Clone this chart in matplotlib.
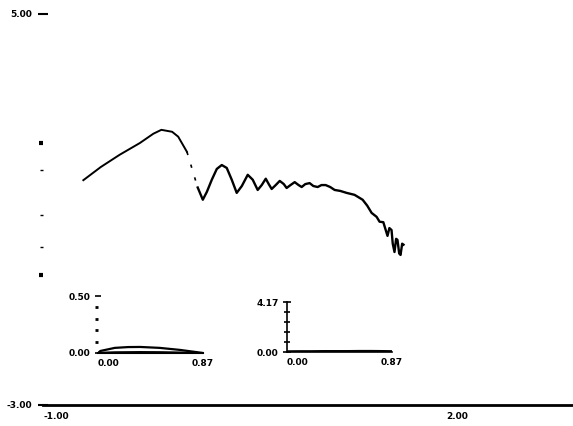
import numpy as np
import matplotlib
matplotlib.use("Agg")
import matplotlib.pyplot as plt

# main trace
main_x = [-0.70, -0.57, -0.43, -0.28, -0.18, -0.12, -0.04, 0.005, 0.07]
main_y = [1.60, 1.87, 2.12, 2.36, 2.55, 2.63, 2.59, 2.49, 2.18]
osc_x = [0.15, 0.188, 0.218, 0.255, 0.292, 0.329, 0.366, 0.403, 0.440, 0.478,
         0.522, 0.559, 0.596, 0.626, 0.656, 0.678, 0.700, 0.730, 0.760, 0.790,
         0.811, 0.84, 0.871, 0.90, 0.923, 0.95, 0.982, 1.01, 1.042, 1.07, 1.101,
         1.135, 1.168, 1.21, 1.257, 1.316, 1.376, 1.41, 1.443, 1.48, 1.502,
         1.53, 1.561, 1.575, 1.591, 1.60, 1.613, 1.625, 1.635, 1.648, 1.658, 1.67, 1.68]
osc_y = [1.45, 1.20, 1.36, 1.61, 1.83, 1.91, 1.85, 1.61, 1.34, 1.48,
         1.71, 1.61, 1.40, 1.50, 1.63, 1.52, 1.42, 1.50, 1.585, 1.52,
         1.44, 1.50, 1.56, 1.50, 1.46, 1.52, 1.54, 1.48, 1.46, 1.50, 1.50,
         1.46, 1.40, 1.38, 1.34, 1.30, 1.20, 1.08, 0.93, 0.85, 0.75,
         0.74, 0.46, 0.62, 0.58, 0.30, 0.13, 0.40, 0.38, 0.10, 0.07, 0.30, 0.28]
gap_x = [0.07, 0.15]
gap_y = [2.18, 1.45]
curve_ticks_big = [2.36, -0.34]
curve_ticks_small = [1.81, 0.89, 0.235]

# small panels
ins1_x = [0.0, 0.02, 0.14, 0.25, 0.35, 0.51, 0.68, 0.80, 0.87]
ins1_y = [0.0, 0.018, 0.045, 0.052, 0.053, 0.045, 0.027, 0.010, 0.0]
ins1_low = [0.0, 0.004, 0.008, 0.009, 0.010, 0.009, 0.006, 0.003, 0.0]
ins2_x = [0.0, 0.10, 0.20, 0.30, 0.40, 0.50, 0.60, 0.70, 0.80, 0.87]
ins2_y = [0.03, 0.04, 0.04, 0.05, 0.05, 0.05, 0.06, 0.06, 0.05, 0.04]

W, H = 573, 426
fig = plt.figure(figsize=(W / 100, H / 100), dpi=100)
fs = 6.5

def px(l, t, r, b):
    return [l / W, 1 - b / H, (r - l) / W, (b - t) / H]

ax = fig.add_axes(px(43, 14, 573, 405))
ax.plot(main_x, main_y, color="k", lw=1.4, solid_joinstyle="round")
ax.plot(gap_x, gap_y, color="k", lw=1.2, ls=(0, (2, 6)))
ax.plot(osc_x, osc_y, color="k", lw=1.7, solid_joinstyle="round")
ax.set_xlim(-1, 2.94)
ax.set_ylim(-3, 5)
for s in ["top", "right", "left"]:
    ax.spines[s].set_visible(False)
ax.spines["bottom"].set_linewidth(2)
ax.set_yticks([-3, 5], ["-3.00", "5.00"], fontsize=fs, fontweight="bold")
ax.set_yticks(curve_ticks_big + curve_ticks_small, minor=True)
ax.tick_params(axis="y", which="major", direction="inout", length=7, width=1.5, pad=4)
ax.tick_params(axis="y", which="minor", length=2, width=1)
for t, v in zip(ax.yaxis.get_minor_ticks(), curve_ticks_big + curve_ticks_small):
    if v in curve_ticks_big:
        t.tick1line.set_markeredgewidth(3)
        t.tick1line.set_markersize(3)
ax.set_xticks([-1, 2], ["-1.00", "2.00"], fontsize=fs, fontweight="bold")
ax.tick_params(axis="x", length=0, pad=5)
for lab in ax.get_xticklabels():
    lab.set_ha("left")

# left inset
a1 = fig.add_axes(px(98, 296, 203, 353))
a1.plot(ins1_x, ins1_y, color="k", lw=1.6)
a1.plot(ins1_x, ins1_low, color="k", lw=1.2)
a1.set_xlim(0, 0.87)
a1.set_ylim(0, 0.5)
for s in ["top", "right", "left"]:
    a1.spines[s].set_visible(False)
a1.spines["bottom"].set_linewidth(1.5)
a1.set_yticks([0, 0.5], ["0.00", "0.50"], fontsize=fs, fontweight="bold")
a1.set_yticks([0.1, 0.2, 0.3, 0.4], minor=True)
a1.tick_params(axis="y", which="major", direction="inout", length=5, width=1.2, pad=3)
a1.tick_params(axis="y", which="minor", length=2, width=2)
a1.set_xticks([0, 0.87], ["0.00", "0.87"], fontsize=fs, fontweight="bold")
a1.tick_params(axis="x", length=0, pad=4)
a1.get_xticklabels()[0].set_ha("left")
a1.patch.set_alpha(0)

# right inset
a2 = fig.add_axes(px(287, 302, 392, 352))
a2.plot(ins2_x, ins2_y, color="k", lw=2)
a2.set_xlim(0, 0.87)
a2.set_ylim(0, 4.17)
for s in ["top", "right"]:
    a2.spines[s].set_visible(False)
a2.spines["bottom"].set_linewidth(1.2)
a2.spines["left"].set_linewidth(1.2)
a2.set_yticks([0, 4.17], ["0.00", "4.17"], fontsize=fs, fontweight="bold")
a2.set_yticks([0.834, 1.668, 2.502, 3.336], minor=True)
a2.tick_params(axis="y", which="major", direction="inout", length=6, width=1.2, pad=3)
a2.tick_params(axis="y", which="minor", direction="inout", length=4, width=1.2)
a2.set_xticks([0, 0.87], ["0.00", "0.87"], fontsize=fs, fontweight="bold")
a2.tick_params(axis="x", length=0, pad=4)
a2.get_xticklabels()[0].set_ha("left")
a2.patch.set_alpha(0)

fig.savefig("out.png", dpi=100)
